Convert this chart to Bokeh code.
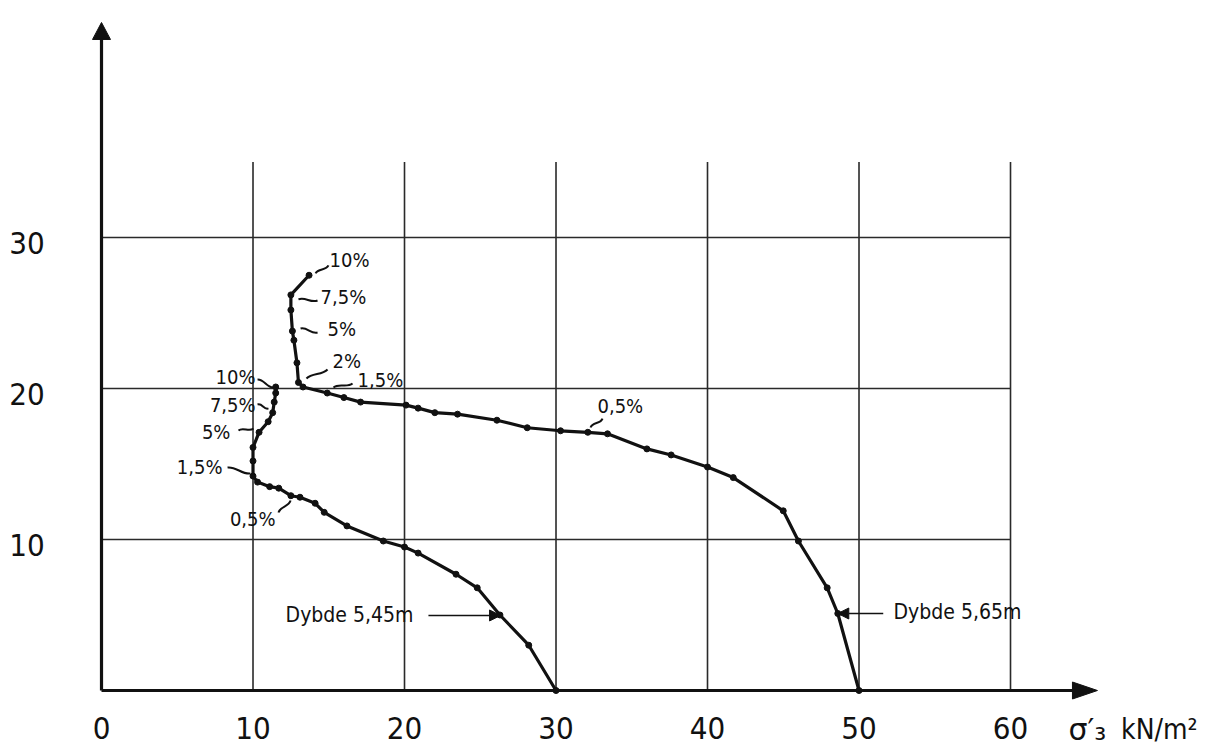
from bokeh.plotting import figure
from bokeh.models import Arrow, NormalHead
from bokeh.core.properties import value
from bokeh.embed import file_html
from bokeh.resources import INLINE

# ---------------- data ----------------
# Dybde 5,45 m  (sigma'_3 in kN/m^2 on x, vertical quantity on y)
curve_545_x = [30.0, 28.2, 26.3, 24.8, 23.4, 20.9, 20.0, 18.6, 16.2, 14.7, 14.1, 13.1,
               12.5, 11.7, 11.1, 10.3, 10.0, 10.0, 10.0, 10.4, 11.0, 11.3, 11.4, 11.5, 11.5]
curve_545_y = [0.0, 3.0, 5.0, 6.8, 7.7, 9.1, 9.5, 9.9, 10.9, 11.8, 12.4, 12.8,
               12.9, 13.4, 13.5, 13.8, 14.2, 15.2, 16.1, 17.1, 17.8, 18.4, 19.1, 19.7, 20.1]
# Dybde 5,65 m
curve_565_x = [50.0, 48.6, 47.9, 46.0, 45.0, 41.7, 40.0, 37.6, 36.0, 33.4, 32.1, 30.3,
               28.1, 26.1, 23.5, 22.0, 20.9, 20.1, 17.1, 16.0, 14.9, 13.3, 13.0, 12.9,
               12.7, 12.6, 12.5, 12.5, 13.7]
curve_565_y = [0.0, 5.1, 6.8, 9.9, 11.9, 14.1, 14.8, 15.6, 16.0, 17.0, 17.1, 17.2,
               17.4, 17.9, 18.3, 18.4, 18.7, 18.9, 19.1, 19.4, 19.7, 20.1, 20.4, 21.7,
               23.2, 23.8, 25.2, 26.2, 27.5]

x_ticks = [0, 10, 20, 30, 40, 50, 60]
y_ticks = [10, 20, 30]
x_tick_labels = ["0", "10", "20", "30", "40", "50", "60"]
y_tick_labels = ["10", "20", "30"]
grid_x = [10, 20, 30, 40, 50, 60]
grid_y = [10, 20, 30]
grid_top = 35
grid_right = 60
x_axis_end = 65.74
y_axis_end = 44.24

# strain labels on the 5,65 m curve (text to the right of the curve)
lab_r_text = ["10%", "7,5%", "5%", "2%", "1,5%", "0,5%"]
lab_r_x = [15.05, 14.46, 14.92, 15.25, 16.90, 32.74]
lab_r_y = [28.48, 26.03, 23.91, 21.85, 20.53, 18.87]
lead_r_x0 = [14.13, 13.00, 13.14, 13.53, 15.31, 32.28]
lead_r_y0 = [27.62, 25.90, 23.97, 20.66, 20.07, 17.42]
lead_r_x1 = [14.98, 14.26, 14.26, 14.92, 16.57, 33.07]
lead_r_y1 = [28.15, 25.83, 23.71, 21.26, 20.33, 18.01]

# strain labels on the 5,45 m curve (text to the left of the curve)
lab_l_text = ["10%", "7,5%", "5%", "1,5%", "0,5%"]
lab_l_x = [10.17, 10.17, 8.51, 7.99, 11.49]
lab_l_y = [20.79, 18.94, 17.09, 14.83, 11.39]
lead_l_x0 = [10.30, 10.30, 9.04, 8.32, 11.68]
lead_l_y0 = [20.60, 18.94, 17.22, 14.77, 11.79]
lead_l_x1 = [11.35, 11.02, 10.03, 9.83, 12.48]
lead_l_y1 = [20.07, 18.68, 17.35, 14.37, 12.58]

depth_text = ["Dybde 5,45m", "Dybde 5,65m"]
depth_text_x = [12.15, 52.28]
depth_text_y = [5.03, 5.17]
depth_arrow_x0 = [21.58, 51.60]
depth_arrow_x1 = [26.34, 48.60]
depth_arrow_y = [4.97, 5.10]

axis_title_sym = "σ′₃"
axis_title_unit = "kN/m²"
axis_title_x = [63.83, 67.30]
axis_title_y = -2.55

# ---------------- figure ----------------
W, H = 1222, 754
p = figure(width=W, height=H, output_backend="svg", toolbar_location=None,
           x_range=(-6.667, 73.993), y_range=(-4.238, 45.695),
           x_axis_location=None, y_axis_location=None, min_border=0,
           tools="")
p.grid.visible = False
p.outline_line_color = None
p.background_fill_color = "white"

FONT = "Liberation Sans Narrow, DejaVu Sans Condensed, sans-serif"
INK = "#111111"

# grid
p.segment(x0=grid_x, y0=[0] * len(grid_x), x1=grid_x, y1=[grid_top] * len(grid_x),
          line_color="#2a2a2a", line_width=1.6)
p.segment(x0=[0] * len(grid_y), y0=grid_y, x1=[grid_right] * len(grid_y), y1=grid_y,
          line_color="#2a2a2a", line_width=1.6)

# axes with arrow heads
p.segment(x0=[0, 0], y0=[0, 0], x1=[x_axis_end - 1.2, 0], y1=[0, y_axis_end - 0.8],
          line_color=INK, line_width=3.2)
hx_len, hx_half = 25 / 15.15, 8.5 / 15.1
hy_len, hy_half = 17 / 15.1, 9 / 15.15
p.patches(xs=[[x_axis_end, x_axis_end - hx_len, x_axis_end - hx_len],
              [0, -hy_half, hy_half]],
          ys=[[0, hx_half, -hx_half],
              [y_axis_end, y_axis_end - hy_len, y_axis_end - hy_len]],
          fill_color=INK, line_color=INK, line_width=1)

# tick labels
p.text(x=x_ticks, y=[-2.5] * len(x_ticks), text=x_tick_labels,
       text_align="center", text_baseline="middle", text_font=value(FONT),
       text_font_size="31px", text_color=INK)
p.text(x=[-3.75] * len(y_ticks), y=[v - 0.38 for v in y_ticks], text=y_tick_labels,
       text_align="right", text_baseline="middle", text_font=value(FONT),
       text_font_size="31px", text_color=INK)

# axis title
p.text(x=[axis_title_x[0]], y=[axis_title_y], text=[axis_title_sym],
       text_align="left", text_baseline="middle", text_font=value("DejaVu Sans"),
       text_font_size="30px", text_color=INK)
p.text(x=[axis_title_x[1]], y=[axis_title_y], text=[axis_title_unit],
       text_align="left", text_baseline="middle", text_font=value(FONT),
       text_font_size="28px", text_color=INK)

# curves
for cx, cy in ((curve_545_x, curve_545_y), (curve_565_x, curve_565_y)):
    p.line(cx, cy, line_color=INK, line_width=3.2, line_join="round")
    p.scatter(cx, cy, size=6, fill_color=INK, line_color=INK)


# leaders (small tilde-shaped strokes)
def tilde(x0, y0, x1, y1, amp=0.22):
    c0x, c0y, c1x, c1y = [], [], [], []
    for a, b, c, d in zip(x0, y0, x1, y1):
        dx, dy = c - a, d - b
        L = (dx * dx + dy * dy) ** 0.5 or 1.0
        nx, ny = -dy / L * amp, dx / L * amp
        c0x.append(a + dx / 3 + nx); c0y.append(b + dy / 3 + ny)
        c1x.append(a + 2 * dx / 3 - nx); c1y.append(b + 2 * dy / 3 - ny)
    return c0x, c0y, c1x, c1y


for x0, y0, x1, y1 in ((lead_r_x0, lead_r_y0, lead_r_x1, lead_r_y1),
                       (lead_l_x0, lead_l_y0, lead_l_x1, lead_l_y1)):
    c0x, c0y, c1x, c1y = tilde(x0, y0, x1, y1)
    p.bezier(x0=x0, y0=y0, x1=x1, y1=y1, cx0=c0x, cy0=c0y, cx1=c1x, cy1=c1y,
             line_color=INK, line_width=2)

# strain labels
p.text(x=lab_r_x, y=lab_r_y, text=lab_r_text, text_align="left", text_baseline="middle",
       text_font=value(FONT), text_font_size="20px", text_color=INK)
p.text(x=lab_l_x, y=lab_l_y, text=lab_l_text, text_align="right", text_baseline="middle",
       text_font=value(FONT), text_font_size="20px", text_color=INK)

# depth labels and arrows
p.text(x=depth_text_x, y=depth_text_y, text=depth_text, text_align="left",
       text_baseline="middle", text_font=value(FONT), text_font_size="21px",
       text_color=INK)
for i in range(len(depth_text)):
    p.add_layout(Arrow(end=NormalHead(size=11, fill_color=INK, line_color=INK),
                       x_start=depth_arrow_x0[i], y_start=depth_arrow_y[i],
                       x_end=depth_arrow_x1[i], y_end=depth_arrow_y[i],
                       line_color=INK, line_width=1.6))

open("out.html", "w").write(file_html(p, INLINE))
